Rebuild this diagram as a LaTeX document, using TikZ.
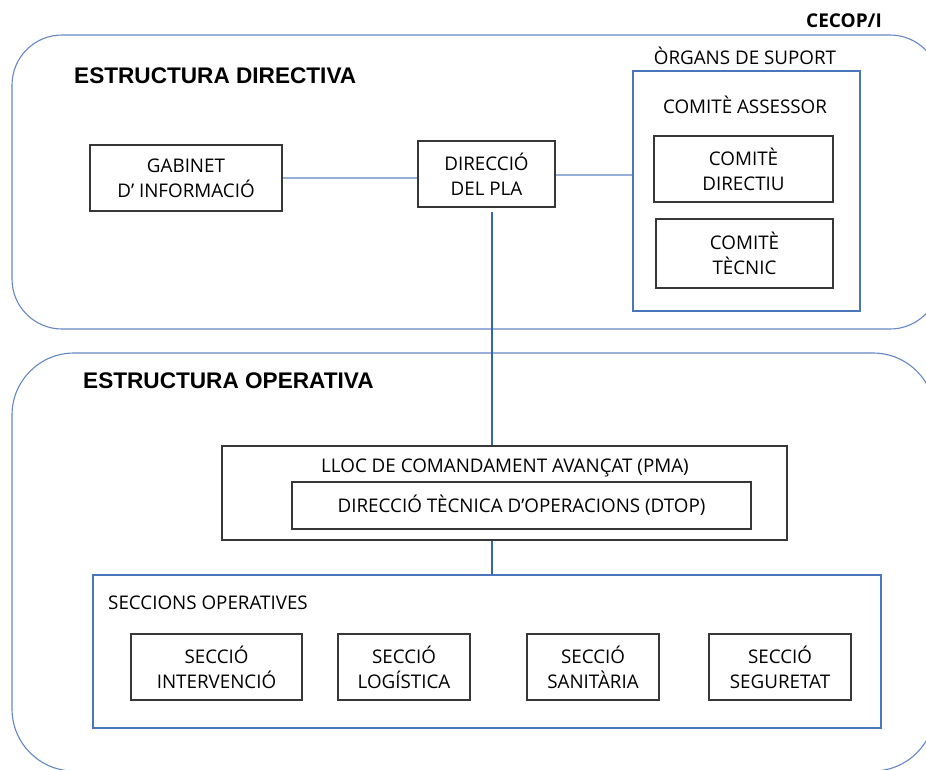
\documentclass[tikz,border=0pt]{standalone}
\usepackage{fontspec}
\setmainfont{Open Sans}
\newfontfamily\headfont{Liberation Sans}
\usetikzlibrary{positioning}
\definecolor{frameblue}{RGB}{100,135,195}
\definecolor{boxblue}{RGB}{75,118,190}
\definecolor{linkblue}{RGB}{150,175,215}
\definecolor{spineblue}{RGB}{50,100,180}
\definecolor{boxgray}{RGB}{55,55,55}
\tikzset{
	blk/.style={draw=boxgray,line width=1.4pt,rectangle,align=center,inner sep=0pt},
	grp/.style={draw=boxblue,line width=1.2pt,rectangle,inner sep=0pt},
	lbl/.style={font=\fontsize{18.8}{25}\selectfont,inner sep=0pt},
	head/.style={font=\headfont\bfseries\fontsize{22.6}{25}\selectfont,inner sep=0pt,anchor=west}
}
\begin{document}
\begin{tikzpicture}[x=1pt,y=-1pt,font=\fontsize{18.8}{25}\selectfont]
	\useasboundingbox(0,0)rectangle(926,769);
	% outer frames
	\draw[frameblue,line width=1.1pt,rounded corners=50pt](12,35)rectangle(940,329);
	\draw[frameblue,line width=1.1pt,rounded corners=62pt](12,353)rectangle(935,771);
	\node(cecop)[font=\bfseries\fontsize{19}{20}\selectfont,inner sep=0pt]at(844,21){CECOP/I};
	% estructura directiva
	\node(hdir)[head]at(74,76){ESTRUCTURA DIRECTIVA};
	\node(gab)[blk,minimum width=192pt,minimum height=66pt]at(186,178){GABINET\\D' INFORMACIÓ};
	\node(dir)[blk,minimum width=137pt,minimum height=66pt]at(486.5,174){DIRECCIÓ\\DEL PLA};
	\node(org)[grp,minimum width=227pt,minimum height=240pt]at(746.5,191){};
	\node(horg)[lbl]at(745,56){ÒRGANS DE SUPORT};
	\node(hass)[lbl]at(745,105){COMITÈ ASSESSOR};
	\node(dirc)[blk,minimum width=179pt,minimum height=66pt]at(743.5,169){COMITÈ\\DIRECTIU};
	\node(tec)[blk,minimum width=177pt,minimum height=69pt]at(744.5,253.5){COMITÈ\\TÈCNIC};
	% estructura operativa
	\node(hop)[head]at(83,381){ESTRUCTURA OPERATIVA};
	\node(pma)[blk,minimum width=565pt,minimum height=94pt]at(504.5,493){};
	\node(hpma)[lbl]at(505,468){LLOC DE COMANDAMENT AVANÇAT (PMA)};
	\node(dtop)[blk,minimum width=459pt,minimum height=47pt]at(521.5,505.5){DIRECCIÓ TÈCNICA D’OPERACIONS (DTOP)};
	\node(secs)[grp,minimum width=788pt,minimum height=153pt]at(487,651.5){};
	\node(hsecs)[lbl,anchor=west]at(108,603){SECCIONS OPERATIVES};
	\node(s1)[blk,minimum width=171pt,minimum height=66pt]at(216.5,667){SECCIÓ\\INTERVENCIÓ};
	\node(s2)[blk,minimum width=132pt,minimum height=66pt]at(404,667){SECCIÓ\\LOGÍSTICA};
	\node(s3)[blk,minimum width=132pt,minimum height=66pt]at(593,667){SECCIÓ\\SANITÀRIA};
	\node(s4)[blk,minimum width=142pt,minimum height=66pt]at(780,667){SECCIÓ\\SEGURETAT};
	% connectors
	\coordinate(spine)at(492,0);
	\draw[linkblue,line width=1.5pt](gab.east)--(gab.east-|dir.west);
	\draw[linkblue,line width=1.5pt]([yshift=-1pt]dir.east)--([yshift=-1pt]dir.east-|org.west);
	\draw[spineblue,line width=1.2pt]([yshift=-4pt]dir.south-|spine)--(pma.north-|spine);
	\draw[spineblue,line width=1.2pt](pma.south-|spine)--(secs.north-|spine);
\end{tikzpicture}
\end{document}
